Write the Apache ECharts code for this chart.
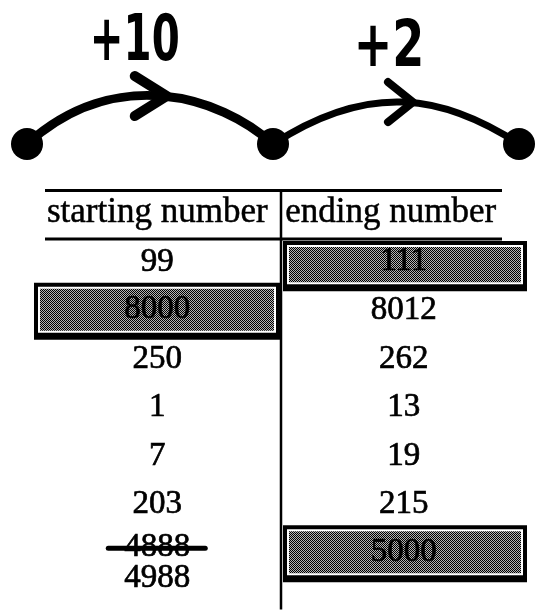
<!DOCTYPE html>
<html><head><meta charset="utf-8">
<script src="https://cdn.jsdelivr.net/npm/echarts@6/dist/echarts.min.js"></script>
<style>html,body{margin:0;padding:0;background:#fff}#c{width:535px;height:613px}</style>
</head><body><div id="c"></div>
<script>
// ---- data ----
const hopLabels = ['+10', '+2'];
const numberLinePoints = [0, 1, 2];
const columns = ['starting number', 'ending number'];
const startingNumbers = ['99', '8000', '250', '1', '7', '203', '4988'];
const endingNumbers = ['111', '8012', '262', '13', '19', '215', '5000'];
const crossedOutStart = ['', '', '', '', '', '', '4888'];
const shadedStart = [false, true, false, false, false, false, false];
const shadedEnd = [true, false, false, false, false, false, true];

// ---- styles ----
const arcStyles = [
  {a: 88, b: 54, k: 0.9, width: 9, tipAhead: 4, barbLen: 32, barbW: 20, labelDx: -28, labelDy: -53, scaleX: 0.7},
  {a: 98, b: 74, k: 0.65, width: 7, tipAhead: 8, barbLen: 25, barbW: 20, labelDx: -16, labelDy: -53, scaleX: 0.8}
];
const SERIF = '33px "Liberation Serif", "Times New Roman", serif';
const HOPFONT = 'bold 64px "Liberation Sans Narrow", "DejaVu Sans Condensed", "Liberation Sans", sans-serif';
const CELLTEXT = {fill: '#000', stroke: '#000', lineWidth: 0.7, align: 'center', verticalAlign: 'middle', font: SERIF};

function makeDither() {
  const cv = document.createElement('canvas');
  cv.width = 4; cv.height = 4;
  const ctx = cv.getContext('2d');
  ctx.fillStyle = '#b4b4b4'; ctx.fillRect(0, 0, 4, 4);
  ctx.fillStyle = '#000';
  for (let y = 0; y < 4; y++) for (let x = 0; x < 4; x++) if ((x + y) % 2 === 0) ctx.fillRect(x, y, 1, 1);
  return cv;
}
const dither = makeDither();

const chart = echarts.init(document.getElementById('c'), null, {renderer: 'canvas'});

function cubicAt(p0, p1, p2, p3, t) {
  const u = 1 - t;
  return [
    u*u*u*p0[0] + 3*u*u*t*p1[0] + 3*u*t*t*p2[0] + t*t*t*p3[0],
    u*u*u*p0[1] + 3*u*u*t*p1[1] + 3*u*t*t*p2[1] + t*t*t*p3[1]
  ];
}

function renderHop(params, api) {
  const i = params.dataIndex;
  const st = arcStyles[i];
  const S = api.coord([api.value(0), 0]);
  const E = api.coord([api.value(1), 0]);
  const C1 = [S[0] + st.a, S[1] - st.k * st.a];
  const C2 = [E[0] - st.b, E[1] - st.k * st.b];
  const P = cubicAt(S, C1, C2, E, 0.5);
  const dx = E[0] - S[0], dy = E[1] - S[1];
  const len = Math.sqrt(dx*dx + dy*dy);
  const ux = dx / len, uy = dy / len, nx = -uy, ny = ux;
  const tip = [P[0] + ux * st.tipAhead, P[1] + uy * st.tipAhead];
  const back = [tip[0] - ux * st.barbLen, tip[1] - uy * st.barbLen];
  const b1 = [back[0] + nx * st.barbW, back[1] + ny * st.barbW];
  const b2 = [back[0] - nx * st.barbW, back[1] - ny * st.barbW];
  return {
    type: 'group',
    children: [
      {type: 'bezierCurve', shape: {x1: S[0], y1: S[1], x2: E[0], y2: E[1], cpx1: C1[0], cpy1: C1[1], cpx2: C2[0], cpy2: C2[1]},
        style: {stroke: '#000', lineWidth: st.width, fill: null, lineCap: 'round'}},
      {type: 'polyline', shape: {points: [b1, tip, b2]},
        style: {stroke: '#000', lineWidth: st.width + 1, fill: null, lineCap: 'round', lineJoin: 'round'}},
      {type: 'text', x: P[0] + st.labelDx, y: P[1] + st.labelDy, scaleX: st.scaleX,
        style: {text: hopLabels[i], font: HOPFONT, fill: '#000', align: 'center', verticalAlign: 'middle'}}
    ]
  };
}

const cellData = [];
startingNumbers.forEach((v, r) => cellData.push([0, r]));
endingNumbers.forEach((v, r) => cellData.push([1, r]));

function cellText(x, y, t) {
  return {type: 'text', x: x, y: y, style: Object.assign({text: t}, CELLTEXT)};
}

function renderCell(params, api) {
  const col = api.value(0), row = api.value(1);
  const c = api.coord([col, row]);
  const sz = api.size([1, 1]);
  const bw = sz[0], bh = sz[1];
  const gridTop = api.coord([0, 0])[1] - bh / 2;
  const text = col === 0 ? startingNumbers[row] : endingNumbers[row];
  const shaded = col === 0 ? shadedStart[row] : shadedEnd[row];
  const crossed = col === 0 ? crossedOutStart[row] : '';
  const children = [];
  if (shaded) {
    const x0 = c[0] - bw / 2 + (col === 0 ? 0 : 2.5);
    const x1 = c[0] + bw / 2 - (col === 0 ? 0.5 : 0);
    const y0 = Math.max(c[1] - 28, gridTop + 3);
    const y1 = c[1] + 29;
    children.push({type: 'rect', shape: {x: x0, y: y0, width: x1 - x0, height: y1 - y0}, style: {fill: '#000'}});
    children.push({type: 'rect', shape: {x: x0 + 4, y: y0 + 4, width: x1 - x0 - 8, height: y1 - y0 - 11}, style: {fill: '#fff'}});
    children.push({type: 'rect', shape: {x: x0 + 6, y: y0 + 6, width: x1 - x0 - 12, height: y1 - y0 - 15},
      style: {fill: {image: dither, repeat: 'repeat'}}});
    children.push(cellText(c[0], c[1] - 1, text));
  } else if (crossed) {
    children.push(cellText(c[0], c[1] - 6, crossed));
    children.push({type: 'line', shape: {x1: c[0] - 49, y1: c[1] - 5, x2: c[0] + 48, y2: c[1] - 5},
      style: {stroke: '#000', lineWidth: 5, lineCap: 'round'}});
    children.push(cellText(c[0], c[1] + 25, text));
  } else {
    children.push(cellText(c[0], c[1], text));
  }
  return {type: 'group', children: children};
}

function renderFrame(params, api) {
  const c = api.coord([0, 0]);
  const sz = api.size([1, 1]);
  const bw = sz[0], bh = sz[1];
  const x0 = c[0] - bw / 2;
  const gridTop = c[1] - bh / 2;
  const topY = gridTop - bh;
  const lx0 = x0 + 11, lx1 = x0 + 2 * bw - 25;
  const divX = x0 + bw + 0.5;
  const bottomY = gridTop + startingNumbers.length * bh + 32;
  return {
    type: 'group',
    children: [
      {type: 'line', shape: {x1: lx0, y1: topY + 1, x2: lx1, y2: topY + 1}, style: {stroke: '#000', lineWidth: 3}},
      {type: 'line', shape: {x1: lx0, y1: gridTop + 1, x2: lx1, y2: gridTop + 1}, style: {stroke: '#000', lineWidth: 3}},
      {type: 'line', shape: {x1: divX, y1: topY, x2: divX, y2: bottomY}, style: {stroke: '#000', lineWidth: 2.5}}
    ]
  };
}

const option = {
  animation: false,
  backgroundColor: '#fff',
  grid: [
    {left: 27, right: 16, top: 44, height: 200},
    {left: 34, right: 8, top: 238, height: 48.5 * startingNumbers.length}
  ],
  xAxis: [
    {gridIndex: 0, type: 'value', min: 0, max: 2, show: false},
    {gridIndex: 1, type: 'category', data: columns, position: 'top',
      axisLine: {show: false}, axisTick: {show: false}, splitLine: {show: false},
      axisLabel: {interval: 0, hideOverlap: false, color: '#000', margin: 8,
        formatter: (v, i) => (i === 1 ? '{r|' + v + '}' : '{l|' + v + '}'),
        rich: {
          l: {fontFamily: '"Liberation Serif", serif', fontSize: 35, color: '#000', textBorderColor: '#000', textBorderWidth: 0.5},
          r: {fontFamily: '"Liberation Serif", serif', fontSize: 35, color: '#000', textBorderColor: '#000', textBorderWidth: 0.5, padding: [0, 26, 0, 0]}
        }}}
  ],
  yAxis: [
    {gridIndex: 0, type: 'value', min: -1, max: 1, show: false},
    {gridIndex: 1, type: 'category', data: startingNumbers.map((v, i) => String(i)), inverse: true, show: false}
  ],
  series: [
    {type: 'custom', xAxisIndex: 0, yAxisIndex: 0, renderItem: renderHop,
      data: hopLabels.map((l, i) => [numberLinePoints[i], numberLinePoints[i + 1]]), z: 2},
    {type: 'scatter', xAxisIndex: 0, yAxisIndex: 0, symbol: 'circle', symbolSize: 32,
      itemStyle: {color: '#000', opacity: 1}, data: numberLinePoints.map(p => [p, 0]), z: 3, silent: true},
    {type: 'custom', xAxisIndex: 1, yAxisIndex: 1, renderItem: renderFrame, data: [[0, 0]], z: 1},
    {type: 'custom', xAxisIndex: 1, yAxisIndex: 1, renderItem: renderCell, data: cellData, z: 2}
  ]
};
chart.setOption(option);
</script>
</body></html>
